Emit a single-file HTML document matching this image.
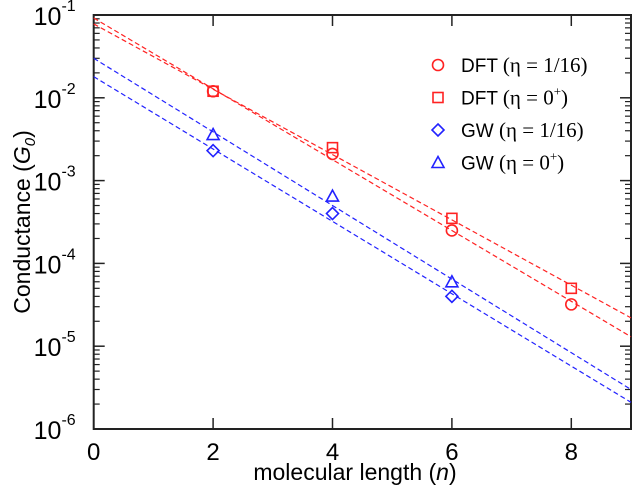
<!DOCTYPE html>
<html><head><meta charset="utf-8"><style>
body{margin:0;background:#fff;}
svg{display:block;font-family:"Liberation Sans",sans-serif;}
</style></head><body>
<svg id="chart" width="634" height="491" viewBox="0 0 634 491" xmlns="http://www.w3.org/2000/svg">
<g id="grid"></g>
<g id="marks"></g>
<g id="legend" font-size="19"></g>
<text x="355" y="480" font-size="23" text-anchor="middle">molecular length (<tspan font-style="italic">n</tspan>)</text>
<text transform="translate(30,222) rotate(-90)" font-size="23" text-anchor="middle">Conductance (<tspan font-style="italic">G<tspan font-size="15" dy="5">0</tspan></tspan><tspan dy="-5">)</tspan></text>
</svg>
<script>
const xTicks=[0,2,4,6,8];
const yExps=[-1,-2,-3,-4,-5,-6];
const nVals=[2,4,6,8];
const dftEta116=[1.2e-2,2.1e-3,2.5e-4,3.2e-5];
const dftEta0=[1.2e-2,2.5e-3,3.5e-4,5e-5];
const gwN=[2,4,6];
const gwEta116=[2.3e-3,4e-4,4e-5];
const gwEta0=[3.6e-3,6.5e-4,6e-5];
const fitX=[0,9];
const fitDft0=[7.8e-2,2.2e-5];
const fitDft116=[9.2e-2,1.3e-5];
const fitGw0=[3e-2,3e-6];
const fitGw116=[1.8e-2,2.1e-6];

const L=93.7,R=631,T=15,B=429;
const xs=v=>L+(v-0)/(9-0)*(R-L);
const ys=v=>T+(-1-Math.log10(v))/5*(B-T);
const NS="http://www.w3.org/2000/svg";
function mk(p,tag,at){const e=document.createElementNS(NS,tag);for(const k in at)e.setAttribute(k,at[k]);p.appendChild(e);return e;}
const grid=document.getElementById('grid'),marks=document.getElementById('marks'),leg=document.getElementById('legend');

let frame=mk(grid,'rect',{x:L,y:T,width:R-L,height:B-T,fill:'none',stroke:'#222','stroke-width':2});


xTicks.forEach(t=>{
  const x=xs(t);
  if(t>0){mk(grid,'line',{x1:x,x2:x,y1:B,y2:B-11,stroke:'#222','stroke-width':1.5});
  mk(grid,'line',{x1:x,x2:x,y1:T,y2:T+11,stroke:'#222','stroke-width':1.5});}
  const tx=mk(grid,'text',{x:x,y:B+31,'font-size':24,'text-anchor':'middle'});
  tx.textContent=t;
  
  
});
yExps.forEach(e=>{
  const y=ys(Math.pow(10,e));
  if(e>-6&&e<-1){mk(grid,'line',{x1:L,x2:L+11,y1:y,y2:y,stroke:'#222','stroke-width':1.5});
  mk(grid,'line',{x1:R,x2:R-11,y1:y,y2:y,stroke:'#222','stroke-width':1.5});}
  if(e<-1){for(let m=2;m<10;m++){const yy=ys(m*Math.pow(10,e));
    mk(grid,'line',{x1:L,x2:L+6,y1:yy,y2:yy,stroke:'#222','stroke-width':1.2});
    mk(grid,'line',{x1:R,x2:R-6,y1:yy,y2:yy,stroke:'#222','stroke-width':1.2});}}
  const tx=mk(grid,'text',{x:L-18,y:y+10,'font-size':25,'text-anchor':'end'});
  tx.innerHTML='10<tspan font-size="16" dy="-14">'+e+'</tspan>';
  
  
});

function fit(arr,col,name){
  const l=mk(marks,'line',{x1:xs(fitX[0]),y1:ys(arr[0]),x2:xs(fitX[1]),y2:ys(arr[1]),stroke:col,'stroke-width':1.2,'stroke-dasharray':'5,3'});
  
  
}
fit(fitDft0,'#f22','fit-dft-eta-0');
fit(fitDft116,'#f22','fit-dft-eta-1-16');
fit(fitGw0,'#22f','fit-gw-eta-0');
fit(fitGw116,'#22f','fit-gw-eta-1-16');

function marker(p,shape,x,y,col){
  const s={fill:'none',stroke:col,'stroke-width':1.6};
  if(shape==='c')return mk(p,'circle',Object.assign({cx:x,cy:y,r:5.5},s));
  if(shape==='s')return mk(p,'rect',Object.assign({x:x-5,y:y-5,width:10,height:10},s));
  if(shape==='d')return mk(p,'polygon',Object.assign({points:`${x},${y-6} ${x+6},${y} ${x},${y+6} ${x-6},${y}`},s));
  return mk(p,'polygon',Object.assign({points:`${x},${y-6} ${x+6},${y+5} ${x-6},${y+5}`},s));
}
function series(xv,yv,shape,col,name){
  yv.forEach((v,i)=>{const m=marker(marks,shape,xs(xv[i]),ys(v),col);
    
    });
}
series(nVals,dftEta116,'c','#f22','dft-eta-1-16');
series(nVals,dftEta0,'s','#f22','dft-eta-0');
series(gwN,gwEta116,'d','#22f','gw-eta-1-16');
series(gwN,gwEta0,'t','#22f','gw-eta-0');

const legItems=[['c','#f22','DFT','1/16',false],['s','#f22','DFT','0',true],['d','#22f','GW','1/16',false],['t','#22f','GW','0',true]];
legItems.forEach((it,i)=>{
  const y=65+i*32.5;
  const m=marker(leg,it[0],438,y,it[1]);
  
  
  const t=mk(leg,'text',{x:461,y:y+7});
  t.innerHTML=it[2]+' <tspan font-family="Liberation Serif,serif" font-size="21">(η = '+it[3]+(it[4]?'<tspan font-size="13" dy="-9">+</tspan><tspan dy="9">)</tspan>':')')+'</tspan>';
  
  
});
</script>
</body></html>
